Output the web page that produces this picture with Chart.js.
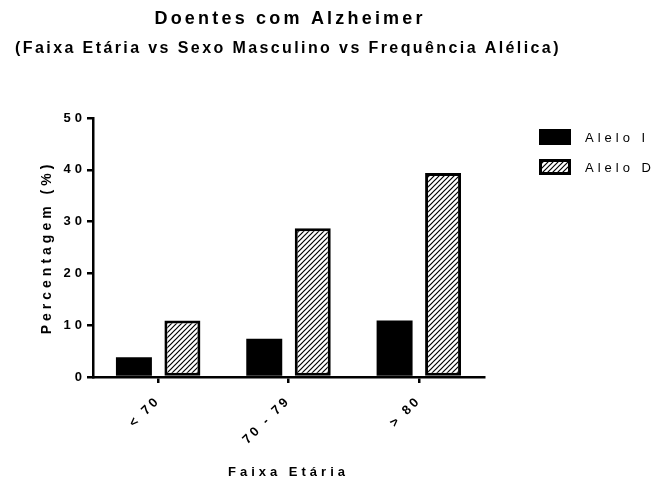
<!DOCTYPE html>
<html>
<head>
<meta charset="utf-8">
<script src="https://cdn.jsdelivr.net/npm/chart.js@4/dist/chart.umd.min.js"></script>
<style>
  html, body { margin: 0; padding: 0; background: #fff; }
  #wrap { width: 652px; height: 480px; }
</style>
</head>
<body>
<div id="wrap"><canvas id="chart" width="652" height="480"></canvas></div>
<script>
// Age groups and allele frequencies (%)
const categories = ['< 70', '70 - 79', '> 80'];
const aleloI = [3.8, 7.4, 10.9];
const aleloD = [10.9, 28.7, 39.4];
const seriesNames = ['Alelo I', 'Alelo D'];
const yTicks = [0, 10, 20, 30, 40, 50];

const titleText = 'Doentes com Alzheimer';
const subtitleText = '(Faixa Etária vs Sexo Masculino vs Frequência Alélica)';
const xTitle = 'Faixa Etária';
const yTitle = 'Percentagem (%)';

const FONT = '"Liberation Sans", Arial, sans-serif';

// Diagonal "///" hatch fill
function makeHatch() {
  const s = 5;
  const c = document.createElement('canvas');
  c.width = s; c.height = s;
  const g = c.getContext('2d');
  g.fillStyle = '#fff';
  g.fillRect(0, 0, s, s);
  g.strokeStyle = '#000';
  g.lineWidth = 1.2;
  g.beginPath();
  g.moveTo(-1, s + 1); g.lineTo(s + 1, -1);
  g.moveTo(-1, 1); g.lineTo(1, -1);
  g.moveTo(s - 1, s + 1); g.lineTo(s + 1, s - 1);
  g.stroke();
  return g.createPattern(c, 'repeat');
}
const hatch = makeHatch();

// Spaced-out lettering for axis text; category labels a little tighter
const spacing = {
  id: 'spacing',
  beforeLayout(chart) { chart.ctx.letterSpacing = '4px'; },
  beforeDraw(chart) {
    chart.ctx.letterSpacing = '4px';
    const s = chart.scales.x;
    if (s && !s._tightLabels) {
      const orig = s.drawLabels;
      s.drawLabels = function (area) {
        const prev = this.ctx.letterSpacing;
        this.ctx.letterSpacing = '3px';
        orig.call(this, area);
        this.ctx.letterSpacing = prev;
      };
      s._tightLabels = true;
    }
  }
};

// Two-line heading and the legend on the right
const decor = {
  id: 'decor',
  afterDraw(chart) {
    const ctx = chart.ctx;
    const ca = chart.chartArea;
    const cx = (ca.left + ca.right) / 2;
    ctx.save();
    ctx.fillStyle = '#000';
    ctx.textAlign = 'center';
    ctx.textBaseline = 'middle';
    ctx.letterSpacing = '3.2px';
    ctx.font = 'bold 18px ' + FONT;
    ctx.fillText(titleText, cx + 1.6, 19);
    ctx.letterSpacing = '2.4px';
    ctx.font = 'bold 16px ' + FONT;
    ctx.fillText(subtitleText, cx - 0.5, 49);

    ctx.textAlign = 'left';
    ctx.letterSpacing = '4px';
    ctx.font = '13px ' + FONT;
    chart.data.datasets.forEach((ds, i) => {
      const x = ca.right + 55;
      const y = ca.top + 11 + i * 30;
      ctx.fillStyle = ds.backgroundColor;
      ctx.fillRect(x, y, 32, 16);
      if (ds.borderWidth) {
        ctx.lineWidth = ds.borderWidth;
        ctx.strokeStyle = ds.borderColor;
        ctx.strokeRect(x + ds.borderWidth / 2, y + ds.borderWidth / 2, 32 - ds.borderWidth, 16 - ds.borderWidth);
      }
      ctx.fillStyle = '#000';
      ctx.fillText(ds.label, x + 46, y + 9);
    });
    ctx.restore();
  }
};

new Chart(document.getElementById('chart'), {
  type: 'bar',
  data: {
    labels: categories,
    datasets: [
      {
        label: seriesNames[0],
        data: aleloI,
        backgroundColor: '#000',
        borderColor: '#000',
        borderWidth: 0,
        categoryPercentage: 0.744,
        barPercentage: 0.742
      },
      {
        label: seriesNames[1],
        data: aleloD,
        backgroundColor: hatch,
        borderColor: '#000',
        borderWidth: 3,
        borderSkipped: false,
        categoryPercentage: 0.744,
        barPercentage: 0.742
      }
    ]
  },
  options: {
    responsive: false,
    animation: false,
    events: [],
    layout: { padding: { top: 118, right: 168, bottom: 0, left: 0 } },
    plugins: {
      legend: { display: false },
      title: { display: false },
      tooltip: { enabled: false }
    },
    scales: {
      x: {
        afterFit(scale) { scale.height = 103; },
        border: { display: true, color: '#000', width: 2.5 },
        grid: { offset: false, drawOnChartArea: false, drawTicks: true, tickLength: 6, color: '#000', lineWidth: 2.5 },
        ticks: {
          color: '#000',
          font: { family: FONT, size: 13, weight: 'bold' },
          minRotation: 45,
          maxRotation: 45,
          padding: 10
        },
        title: {
          display: true,
          text: xTitle,
          color: '#000',
          font: { family: FONT, size: 13, weight: 'bold' },
          padding: { top: 0, bottom: 0 }
        }
      },
      y: {
        min: 0,
        max: 50,
        afterFit(scale) { scale.width = 93; },
        afterBuildTicks(scale) { scale.ticks = yTicks.map(v => ({ value: v })); },
        border: { display: true, color: '#000', width: 2.5 },
        grid: { drawOnChartArea: false, drawTicks: true, tickLength: 6, color: '#000', lineWidth: 2.5 },
        ticks: {
          color: '#000',
          font: { family: FONT, size: 13, weight: 'bold' },
          padding: 1
        },
        title: {
          display: true,
          text: yTitle,
          color: '#000',
          font: { family: FONT, size: 14, weight: 'bold' },
          padding: { top: 39, bottom: 0 }
        }
      }
    }
  },
  plugins: [spacing, decor]
});
</script>
</body>
</html>
